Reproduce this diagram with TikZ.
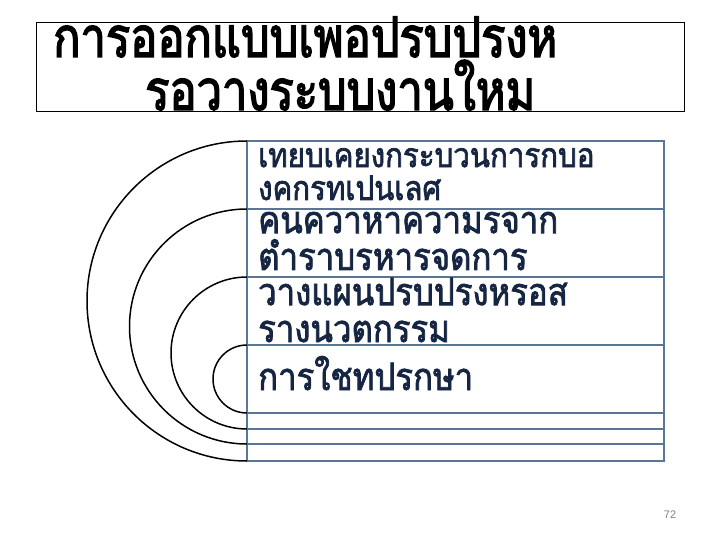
\documentclass[tikz,border=0pt]{standalone}
\usepackage{fontspec}
\usepackage{tikz}
\usetikzlibrary{positioning}
\newfontfamily\thaifont[Script=Thai,FakeStretch=0.87,FakeBold=2]{Loma}
\newfontfamily\thaititle[Script=Thai,FakeStretch=0.81,FakeBold=2.6]{Loma}
\setsansfont{Liberation Sans}
\definecolor{boxline}{RGB}{88,118,152}
\definecolor{boxtext}{RGB}{22,38,66}

\tikzset{
  itembox/.style={draw=boxline,line width=1.5pt,minimum width=417bp,inner sep=0pt,outer sep=0pt},
  itemtext/.style={anchor=base west,inner sep=0pt,align=left,text=boxtext,font=\thaifont\fontsize{38}{37}\selectfont},
  smalltext/.style={itemtext,font=\thaifont\fontsize{34}{33}\selectfont},
  titletext/.style={anchor=base west,inner sep=0pt,font=\thaititle\fontsize{56}{64}\selectfont},
  ring/.style={line width=1.5pt}
}

\begin{document}
\begin{tikzpicture}[x=1bp,y=-1bp]
\useasboundingbox (0,0) rectangle (720,540);

% title
\node[draw,line width=0.7pt,minimum width=648bp,minimum height=89bp,inner sep=0pt,anchor=north west] (title) at (36,22) {};
\node[titletext] (t1) at (53,57) {การออกแบบเพอปรบปรงห};
\node[titletext] (t2) at (145,110) {รอวางระบบงานใหม};

% boxes
\node[itembox,minimum height=68bp,anchor=north west] (b1) at (247,141) {};
\node[itembox,minimum height=68bp,below=0pt of b1] (b2) {};
\node[itembox,minimum height=68bp,below=0pt of b2] (b3) {};
\node[itembox,minimum height=68bp,below=0pt of b3] (b4) {};
\node[itembox,minimum height=16bp,below=0pt of b4] (b5) {};
\node[itembox,minimum height=15bp,below=0pt of b5] (b6) {};
\node[itembox,minimum height=17bp,below=0pt of b6] (b7) {};

% texts (base = last line)
\node[smalltext] (l1) at (258,200) {เทยบเคยงกระบวนการกบอ\\งคกรทเปนเลศ};
\node[itemtext] (l2) at (258,270) {คนควาหาความรจาก\\ตำราบรหารจดการ};
\node[itemtext] (l3) at (258,342) {วางแผนปรบปรงหรอส\\รางนวตกรรม};
\node[itemtext] (l4) at (258,390) {การใชทปรกษา};

% rings
\draw[ring] (b1.north west) arc[start angle=-90,end angle=-270,radius=160];
\draw[ring] (b2.north west) arc[start angle=-90,end angle=-270,radius=117.5];
\draw[ring] (b3.north west) arc[start angle=-90,end angle=-270,radius=76];
\draw[ring] (b4.north west) arc[start angle=-90,end angle=-270,radius=34];

\node[font=\sffamily\fontsize{11}{13}\selectfont,text=gray] (pg) at (670,515) {72};
\end{tikzpicture}
\end{document}
